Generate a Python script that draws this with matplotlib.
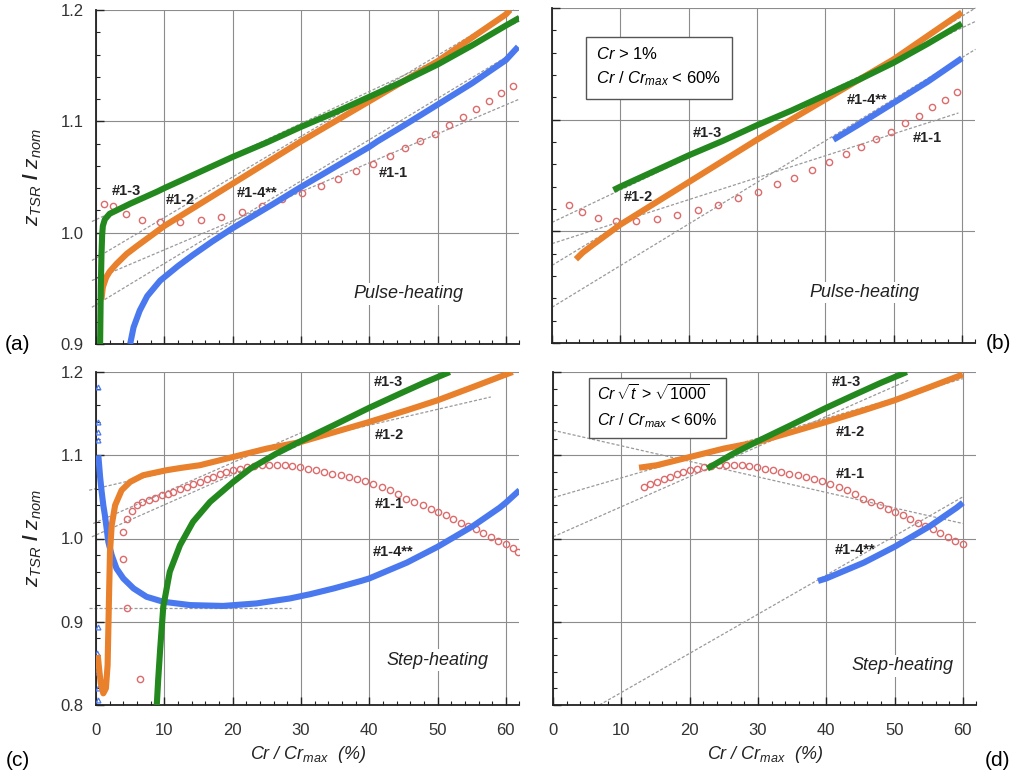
import numpy as np
import matplotlib
matplotlib.use("Agg")
import matplotlib.pyplot as plt
from matplotlib.ticker import MultipleLocator

plt.rcParams['font.family'] = ['Liberation Sans', 'DejaVu Sans']
plt.rcParams['mathtext.fontset'] = 'custom'
plt.rcParams['mathtext.it'] = 'Liberation Sans:italic'
plt.rcParams['mathtext.rm'] = 'Liberation Sans'
plt.rcParams['mathtext.sf'] = 'Liberation Sans'

# --- pulse-heating data (panels a, b) ---
a_green_x = [0.6, 0.7, 0.8, 0.9, 1.0, 1.3, 2, 3, 5, 9, 10, 15, 20, 25, 30, 35, 40, 45, 50, 55, 60, 62]
a_green_y = [0.90, 0.95, 0.98, 0.998, 1.006, 1.012, 1.017, 1.020, 1.026, 1.037, 1.040, 1.054, 1.068,
             1.081, 1.095, 1.108, 1.122, 1.136, 1.151, 1.168, 1.186, 1.193]
a_orange_x = [0.8, 1.0, 1.5, 2, 3, 3.5, 4.5, 6, 8, 10, 15, 20, 25, 30, 35, 40, 45, 50, 55, 60, 60.6]
a_orange_y = [0.94, 0.951, 0.960, 0.965, 0.972, 0.975, 0.981, 0.988, 0.997, 1.006, 1.025, 1.044, 1.063,
              1.082, 1.100, 1.118, 1.136, 1.154, 1.175, 1.196, 1.200]
a_blue_x = [5.0, 5.5, 6.4, 7.5, 9.4, 12, 14.2, 17, 20, 23, 26, 30, 35, 40, 41.2, 45, 50, 55, 60, 61.8]
a_blue_y = [0.90, 0.915, 0.93, 0.943, 0.957, 0.970, 0.980, 0.992, 1.004, 1.015, 1.026, 1.041, 1.059,
            1.077, 1.082, 1.096, 1.115, 1.134, 1.155, 1.167]
a_red_x = [1.2, 2.5, 4.4, 6.7, 9.4, 12.3, 15.3, 18.3, 21.4, 24.3, 27.2, 30.1, 32.9, 35.5, 38.1, 40.6,
           43.0, 45.3, 47.5, 49.7, 51.7, 53.7, 55.6, 57.5, 59.3, 61.0]
a_red_y = [1.026, 1.024, 1.017, 1.0115, 1.0095, 1.0097, 1.0112, 1.0144, 1.019, 1.024, 1.030, 1.0354,
           1.042, 1.048, 1.055, 1.062, 1.069, 1.0757, 1.0823, 1.089, 1.0967, 1.1036, 1.111, 1.118,
           1.125, 1.132]
# fitted lines (x0, x1, y0, y1)
a_fits = [(-0.6, 62, 1.010, 1.190), (-0.6, 61.2, 0.975, 1.200), (-0.6, 62, 0.957, 1.120),
          (-0.6, 62, 0.933, 1.165)]
b_fits = [(0, 62, 1.008, 1.188), (0, 59.5, 0.989, 1.106), (0, 62, 0.9695, 1.200), (0, 62, 0.932, 1.163)]

# --- step-heating data (panels c, d) ---
c_green_x = [8.9, 9.1, 9.4, 9.85, 10.8, 12.3, 14.2, 16.7, 20.1, 22.6, 26.4, 30, 34.8, 40, 44.5, 48, 51.8]
c_green_y = [0.80, 0.83, 0.868, 0.918, 0.96, 0.992, 1.02, 1.044, 1.068, 1.084, 1.102, 1.117, 1.136,
             1.157, 1.174, 1.187, 1.200]
c_orange_x = [0.25, 0.5, 0.7, 1.07, 1.45, 1.7, 1.9, 2.05, 2.3, 2.8, 3.75, 5.0, 6.9, 10.3, 12.6, 15.2,
              20.1, 25, 30, 35, 40, 45.5, 50, 55.2, 60, 61]
c_orange_y = [0.86, 0.84, 0.826, 0.814, 0.82, 0.848, 0.928, 0.984, 1.016, 1.04, 1.058, 1.068, 1.076,
              1.082, 1.085, 1.088, 1.098, 1.108, 1.116, 1.128, 1.14, 1.154, 1.166, 1.182, 1.197, 1.200]
c_blue_x = [0.34, 0.5, 0.6, 0.83, 1.07, 1.3, 1.56, 1.8, 2.3, 3.0, 4.0, 5.5, 7.4, 9.85, 13.8, 18.6, 23.5,
            28.4, 31.3, 34.8, 38.8, 40, 45.5, 50, 55.2, 59.1, 60, 62]
c_blue_y = [1.10, 1.084, 1.074, 1.056, 1.04, 1.028, 1.012, 0.996, 0.98, 0.964, 0.952, 0.94, 0.93, 0.924,
            0.92, 0.919, 0.922, 0.928, 0.933, 0.94, 0.949, 0.952, 0.971, 0.99, 1.015, 1.037, 1.043, 1.058]
c_blue_early_x = [0.25, 0.25, 0.25, 0.3, 0.25, 0.2, 0.2, 0.25, 0.3]
c_blue_early_y = [1.182, 1.14, 1.128, 1.118, 0.894, 0.862, 0.84, 0.82, 0.806]
c_red_x = [4.0, 3.9, 4.6, 6.4, 4.5, 5.2, 6.0, 6.8, 7.7, 8.6, 9.6, 10.5, 11.3, 12.3, 13.3, 14.2, 15.2,
           16.2, 17.2, 18.2, 19.1, 20.1, 21.1, 22.1, 23.2, 24.3, 25.4, 26.5, 27.6, 28.7, 29.9, 31.0,
           32.2, 33.4, 34.6, 35.8, 37.0, 38.2, 39.4, 40.6, 41.8, 43.0, 44.2, 45.4, 46.6, 47.8, 49.0,
           50.1, 51.2, 52.3, 53.4, 54.5, 55.6, 56.7, 57.8, 58.9, 60.0, 61.0, 61.8]
c_red_y = [1.008, 0.975, 0.917, 0.831, 1.024, 1.033, 1.040, 1.044, 1.046, 1.049, 1.052, 1.054, 1.056,
           1.059, 1.062, 1.065, 1.068, 1.071, 1.074, 1.077, 1.080, 1.082, 1.084, 1.086, 1.087, 1.088,
           1.088, 1.088, 1.088, 1.087, 1.086, 1.084, 1.082, 1.080, 1.078, 1.076, 1.074, 1.071, 1.069,
           1.066, 1.062, 1.058, 1.053, 1.048, 1.044, 1.040, 1.036, 1.032, 1.028, 1.023, 1.019, 1.015,
           1.011, 1.007, 1.002, 0.997, 0.993, 0.988, 0.984]
c_fits = [(-1, 57.8, 1.058, 1.170), (-0.4, 30.3, 1.018, 1.128), (-0.6, 30, 1.002, 1.113),
          (-1, 28.5, 0.916, 0.916)]
d_fits = [(0, 60, 1.130, 1.018), (0, 60, 1.049, 1.192), (0, 52, 1.002, 1.190), (6.8, 60, 0.800, 1.050)]

GREEN = '#23891f'
ORANGE = '#e8802c'
BLUE = '#4a78ee'
RED = '#dd6b6b'
FIT = '#9a9a9a'

fig = plt.figure(figsize=(10.12, 7.74), dpi=100)
W = 423.5 / 1012
ax_a = fig.add_axes([96 / 1012, 1 - 344 / 774, W, 334 / 774])
ax_b = fig.add_axes([552 / 1012, 1 - 343 / 774, W, 335 / 774])
ax_c = fig.add_axes([96 / 1012, 1 - 705 / 774, W, 333 / 774])
ax_d = fig.add_axes([553 / 1012, 1 - 705 / 774, W, 333 / 774])


def setup(ax, ylo, show_x, show_y):
    ax.set_xlim(0, 62)
    ax.set_ylim(ylo, 1.2)
    ax.xaxis.set_major_locator(MultipleLocator(10))
    ax.xaxis.set_minor_locator(MultipleLocator(2))
    ax.yaxis.set_major_locator(MultipleLocator(0.1))
    ax.yaxis.set_minor_locator(MultipleLocator(0.02))
    ax.grid(True, which='major', color='#8c8c8c', lw=0.8)
    ax.set_axisbelow(True)
    for s in ['top', 'right']:
        ax.spines[s].set_visible(False)
    for s in ['left', 'bottom']:
        ax.spines[s].set_color('#222222')
        ax.spines[s].set_linewidth(1.3)
    ax.tick_params(which='both', direction='in', colors='#222222', labelcolor='#333333', labelsize=12)
    ax.tick_params(which='major', length=6, width=1.0)
    ax.tick_params(which='minor', length=3, width=0.8)
    ax.tick_params(axis='y', pad=9)
    ax.tick_params(axis='x', pad=13)
    if not show_x:
        ax.set_xticklabels([])
    if not show_y:
        ax.set_yticklabels([])
    else:
        ax.yaxis.set_major_formatter(matplotlib.ticker.FormatStrFormatter('%.1f'))


def fits(ax, lines):
    for x0, x1, y0, y1 in lines:
        ax.plot([x0, x1], [y0, y1], ls=(0, (2.5, 1.5)), color=FIT, lw=0.9, zorder=2, clip_on=False)


def sel(xs, ys, lo, hi):
    x = np.array(xs)
    y = np.array(ys)
    m = (x >= lo) & (x <= hi)
    return x[m], y[m]


def curve(ax, x, y, color):
    ax.plot(x, y, color=color, lw=4.4, solid_capstyle='butt', solid_joinstyle='round', zorder=4)


def red_pts(ax, x, y):
    ax.plot(x, y, ls='none', marker='o', ms=4.5, mfc='none', mec=RED, mew=1.0, zorder=3)


lab = dict(fontsize=10.5, color='#222222', fontweight='bold', ha='center', va='center', zorder=6)
heat = dict(fontsize=13, style='italic', color='#222222', ha='center', va='center', zorder=6,
            bbox=dict(fc='white', ec='none', pad=1.5))

# (a)
setup(ax_a, 0.9, False, True)
fits(ax_a, a_fits)
red_pts(ax_a, a_red_x, a_red_y)
curve(ax_a, a_blue_x, a_blue_y, BLUE)
curve(ax_a, a_orange_x, a_orange_y, ORANGE)
curve(ax_a, a_green_x, a_green_y, GREEN)
ax_a.text(4.5, 1.037, '#1-3', **lab)
ax_a.text(12.3, 1.029, '#1-2', **lab)
ax_a.text(23.6, 1.036, '#1-4**', **lab)
ax_a.text(43.5, 1.054, '#1-1', **lab)
ax_a.text(45.7, 0.945, 'Pulse-heating', **heat)

# (b)
setup(ax_b, 0.9, False, False)
fits(ax_b, b_fits)
red_pts(ax_b, *sel(a_red_x, a_red_y, 1.5, 60))
curve(ax_b, *sel(a_blue_x, a_blue_y, 41.2, 60), BLUE)
curve(ax_b, *sel(a_orange_x, a_orange_y, 3.5, 60), ORANGE)
curve(ax_b, *sel(a_green_x, a_green_y, 9, 60), GREEN)
ax_b.text(22.8, 1.088, '#1-3', **lab)
ax_b.text(12.6, 1.031, '#1-2', **lab)
ax_b.text(46.1, 1.118, '#1-4**', **lab)
ax_b.text(55.0, 1.084, '#1-1', **lab)
ax_b.text(45.8, 0.945, 'Pulse-heating', **heat)
ax_b.text(0.105, 0.823, '$Cr$ > 1%\n$Cr$ / $Cr_{max}$ < 60%', transform=ax_b.transAxes, fontsize=12,
          va='center', ha='left', linespacing=1.5, zorder=7,
          bbox=dict(boxstyle='square,pad=0.65', fc='white', ec='#555555', lw=1.0))

# (c)
setup(ax_c, 0.8, True, True)
fits(ax_c, c_fits)
red_pts(ax_c, c_red_x, c_red_y)
curve(ax_c, c_blue_x, c_blue_y, BLUE)
ax_c.plot(c_blue_early_x, c_blue_early_y, ls='none', marker='^', ms=3.5, mfc='none', mec=BLUE, mew=0.9, zorder=4)
curve(ax_c, c_orange_x, c_orange_y, ORANGE)
curve(ax_c, c_green_x, c_green_y, GREEN)
ax_c.text(42.8, 1.188, '#1-3', **lab)
ax_c.text(43.0, 1.124, '#1-2', **lab)
ax_c.text(43.0, 1.042, '#1-1', **lab)
ax_c.text(43.5, 0.984, '#1-4**', **lab)
ax_c.text(50, 0.854, 'Step-heating', **heat)

# (d)
setup(ax_d, 0.8, True, False)
fits(ax_d, d_fits)
red_pts(ax_d, *sel(c_red_x, c_red_y, 13, 60))
curve(ax_d, *sel(c_blue_x, c_blue_y, 38.8, 60), BLUE)
curve(ax_d, *sel(c_orange_x, c_orange_y, 12.6, 60), ORANGE)
curve(ax_d, *sel(c_green_x, c_green_y, 22.6, 60), GREEN)
ax_d.text(43.0, 1.188, '#1-3', **lab)
ax_d.text(43.5, 1.128, '#1-2', **lab)
ax_d.text(43.5, 1.078, '#1-1', **lab)
ax_d.text(44.2, 0.986, '#1-4**', **lab)
ax_d.text(51.1, 0.847, 'Step-heating', **heat)
ax_d.text(0.105, 0.895, r'$Cr\,\sqrt{t}$ > $\sqrt{1000}$' + '\n' + '$Cr$ / $Cr_{max}$ < 60%',
          transform=ax_d.transAxes, fontsize=11.5, va='center', ha='left', linespacing=1.5, zorder=7,
          bbox=dict(boxstyle='square,pad=0.5', fc='white', ec='#555555', lw=1.0))

# axis labels
ylab = r'$z_{TSR}$ / $z_{nom}$'
for ax in (ax_a, ax_c):
    ax.set_ylabel(ylab, fontsize=15, fontweight='bold', labelpad=12, color='#222222')
for ax in (ax_c, ax_d):
    ax.set_xlabel(r'$Cr$ / $Cr_{max}$  (%)', fontsize=13, style='italic', labelpad=4, color='#222222')

fig.text(18 / 1012, 1 - 345 / 774, '(a)', fontsize=15, ha='center', va='center')
fig.text(998 / 1012, 1 - 343 / 774, '(b)', fontsize=15, ha='center', va='center')
fig.text(18 / 1012, 1 - 760 / 774, '(c)', fontsize=15, ha='center', va='center')
fig.text(998 / 1012, 1 - 760 / 774, '(d)', fontsize=15, ha='center', va='center')

fig.savefig('out.png', dpi=100, facecolor='white')
